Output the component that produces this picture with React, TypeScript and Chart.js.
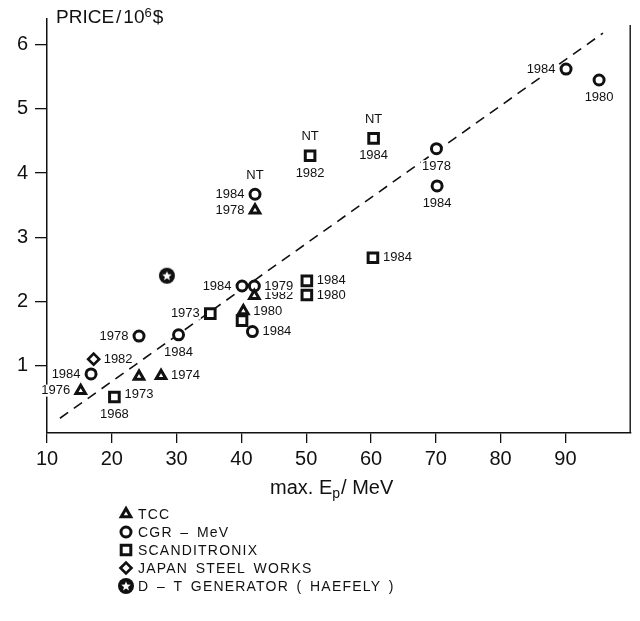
import React, { useEffect, useRef } from 'react';
import { Chart, registerables } from 'chart.js';
import { drawPoint } from 'chart.js/helpers';

Chart.register(...registerables);

// ---------- data ----------
const tccX = [15.2, 24.2, 27.6, 40.3, 42.0, 42.1];
const tccY = [0.61, 0.83, 0.84, 1.85, 2.09, 3.42];
const tccYears = ['1976', '1973', '1974', '1980', '1982', '1978'];
const tccNT = [false, false, false, false, false, false];

const cgrX = [16.8, 24.2, 30.3, 40.1, 42.0, 41.7, 42.1, 70.1, 70.2, 90.1, 95.2];
const cgrY = [0.87, 1.46, 1.48, 2.24, 2.24, 1.53, 3.67, 4.38, 3.8, 5.62, 5.45];
const cgrYears = ['1984', '1978', '1984', '1984', '1979', '1984', '1984', '1978', '1984', '1984', '1980'];
const cgrNT = [false, false, false, false, false, false, true, false, false, false, false];

const scanX = [20.4, 35.2, 40.1, 50.1, 50.1, 60.3, 50.6, 60.4];
const scanY = [0.51, 1.81, 1.7, 2.32, 2.1, 2.68, 4.27, 4.54];
const scanYears = ['1968', '1973', '', '1984', '1980', '1984', '1982', '1984'];
const scanNT = [false, false, false, false, false, false, true, true];

const jswX = [17.2];
const jswY = [1.1];
const jswYears = ['1982'];
const jswNT = [false];

const dtX = [28.5];
const dtY = [2.4];
const dtYears = [''];
const dtNT = [false];

const fitX = [12.0, 95.8];
const fitY = [0.18, 6.18];

const xTickValues = [10, 20, 30, 40, 50, 60, 70, 80, 90];
const yTickValues = [1, 2, 3, 4, 5, 6];

const seriesNames = ['TCC', 'CGR – MeV', 'SCANDITRONIX', 'JAPAN STEEL WORKS', 'D – T GENERATOR ( HAEFELY )'];

// label placement (style): l = left, r = right, b = below
const tccSide = ['l', 'b', 'r', 'r', 'r', 'l'];
const cgrSide = ['l', 'l', 'b', 'l', 'r', 'r', 'l', 'b', 'b', 'l', 'b'];
const scanSide = ['b', 'l', 'r', 'r', 'r', 'r', 'b', 'b'];
const jswSide = ['r'];
const dtSide = [''];

const INK = '#111';
const FONT = '"Liberation Sans", Arial, Helvetica, sans-serif';

function makeStar(): HTMLCanvasElement {
  const c = document.createElement('canvas');
  c.width = 18;
  c.height = 18;
  const g = c.getContext('2d')!;
  g.fillStyle = INK;
  g.beginPath();
  g.arc(9, 9, 8, 0, Math.PI * 2);
  g.fill();
  g.fillStyle = '#fff';
  g.beginPath();
  for (let i = 0; i < 10; i++) {
    const r = i % 2 === 0 ? 5 : 2.2;
    const a = -Math.PI / 2 + (i * Math.PI) / 5;
    const px = 9 + r * Math.cos(a);
    const py = 9.4 + r * Math.sin(a);
    if (i === 0) g.moveTo(px, py);
    else g.lineTo(px, py);
  }
  g.closePath();
  g.fill();
  return c;
}

const pts = (xs: number[], ys: number[]) => xs.map((x, i) => ({ x, y: ys[i] }));

export default function App() {
  const ref = useRef<HTMLCanvasElement | null>(null);

  useEffect(() => {
    if (!ref.current) return;
    const star = makeStar();

    const series = [
      { data: pts(tccX, tccY), style: 'triangle' as any, radius: 5.5, bw: 3, years: tccYears, side: tccSide, nt: tccNT },
      { data: pts(cgrX, cgrY), style: 'circle' as any, radius: 5, bw: 3, years: cgrYears, side: cgrSide, nt: cgrNT },
      { data: pts(scanX, scanY), style: 'rect' as any, radius: 6.8, bw: 3, years: scanYears, side: scanSide, nt: scanNT },
      { data: pts(jswX, jswY), style: 'rectRot' as any, radius: 5.5, bw: 2.6, years: jswYears, side: jswSide, nt: jswNT },
      { data: pts(dtX, dtY), style: star as any, radius: 8, bw: 0, years: dtYears, side: dtSide, nt: dtNT },
    ];

    const datasets: any[] = series.map((s, i) => ({
      label: seriesNames[i],
      data: s.data,
      showLine: false,
      pointStyle: s.style,
      pointRadius: s.radius,
      pointHoverRadius: s.radius,
      pointBorderWidth: s.bw,
      pointBorderColor: INK,
      pointBackgroundColor: '#fff',
      borderColor: INK,
      backgroundColor: '#fff',
    }));
    const lineIndex = datasets.length;
    datasets.push({
      label: 'fit',
      data: pts(fitX, fitY),
      showLine: true,
      pointRadius: 0,
      borderColor: INK,
      borderWidth: 1.6,
      borderDash: [10, 7],
      fill: false,
    });

    const annotPlugin = {
      id: 'annot',
      // the fit line is drawn first; labels go on top of it, markers on top of labels
      afterDatasetDraw(chart: any, args: any) {
        if (args.index !== lineIndex) return;
        const ctx = chart.ctx as CanvasRenderingContext2D;
        ctx.save();
        ctx.font = `13px ${FONT}`;
        ctx.textBaseline = 'middle';
        const put = (t: string, tx: number, ty: number, align: CanvasTextAlign) => {
          const w = ctx.measureText(t).width;
          const left = align === 'right' ? tx - w : align === 'center' ? tx - w / 2 : tx;
          ctx.fillStyle = '#fff';
          ctx.fillRect(left - 1, ty - 6, w + 2, 12);
          ctx.fillStyle = INK;
          ctx.textAlign = align;
          ctx.fillText(t, tx, ty);
        };
        series.forEach((s, di) => {
          const meta = chart.getDatasetMeta(di);
          meta.data.forEach((el: any, i: number) => {
            const t = s.years[i];
            const side = s.side[i];
            const x = el.x;
            const y = el.y;
            if (t) {
              if (side === 'l') put(t, x - 10.5, y, 'right');
              else if (side === 'r') put(t, x + 10, y, 'left');
              else if (side === 'b') put(t, x, y + 17.5, 'center');
            }
            if (s.nt[i]) put('NT', x, y - 19, 'center');
          });
        });
        ctx.restore();
      },
      afterDraw(chart: any) {
        const ctx = chart.ctx as CanvasRenderingContext2D;
        const a = chart.chartArea;
        ctx.save();
        // right frame line
        ctx.strokeStyle = INK;
        ctx.lineWidth = 1.4;
        ctx.beginPath();
        ctx.moveTo(a.right, a.top + 6);
        ctx.lineTo(a.right, a.bottom);
        ctx.stroke();

        ctx.fillStyle = INK;
        ctx.textAlign = 'left';
        ctx.textBaseline = 'alphabetic';
        // y title: PRICE/10^6$
        let x = 56;
        ctx.font = `19px ${FONT}`;
        ctx.fillText('PRICE', x, 23);
        x += ctx.measureText('PRICE').width + 2;
        ctx.fillText('/', x, 23);
        x += ctx.measureText('/').width + 2;
        ctx.fillText('10', x, 23);
        x += ctx.measureText('10').width;
        ctx.font = `13px ${FONT}`;
        ctx.fillText('6', x, 17);
        x += ctx.measureText('6').width + 1;
        ctx.font = `19px ${FONT}`;
        ctx.fillText('$', x, 23);

        // x title: max. Ep/ MeV
        x = 270;
        const by = 494;
        ctx.font = `20px ${FONT}`;
        ctx.fillText('max. E', x, by);
        x += ctx.measureText('max. E').width;
        ctx.font = `14px ${FONT}`;
        ctx.fillText('p', x, by + 4);
        x += ctx.measureText('p').width + 1;
        ctx.font = `20px ${FONT}`;
        ctx.fillText('/ MeV', x, by);

        // legend
        ctx.textBaseline = 'middle';
        series.forEach((s, i) => {
          const ly = 514 + i * 18;
          ctx.fillStyle = '#fff';
          ctx.strokeStyle = INK;
          ctx.lineWidth = s.bw;
          drawPoint(ctx, { pointStyle: s.style, radius: s.radius, rotation: 0, borderWidth: s.bw } as any, 126, ly);
          ctx.fillStyle = INK;
          ctx.font = `14px ${FONT}`;
          (ctx as any).letterSpacing = '1.2px';
          (ctx as any).wordSpacing = '2.5px';
          ctx.fillText(seriesNames[i], 138, ly + 1);
          (ctx as any).letterSpacing = '0px';
          (ctx as any).wordSpacing = '0px';
        });
        ctx.restore();
      },
    };

    const chart = new Chart(ref.current, {
      type: 'scatter',
      data: { datasets },
      options: {
        animation: false,
        responsive: false,
        layout: { padding: { top: 14, right: 3, left: 0, bottom: 0 } },
        plugins: { legend: { display: false }, tooltip: { enabled: false } },
        scales: {
          x: {
            type: 'linear',
            min: 10,
            max: 100,
            afterBuildTicks: (s: any) => {
              s.ticks = xTickValues.map((v) => ({ value: v }));
            },
            afterFit: (s: any) => {
              s.height = 188;
            },
            grid: { drawOnChartArea: false, drawTicks: true, tickLength: 10, color: INK, lineWidth: 1.3 },
            border: { display: true, color: INK, width: 1.5 },
            ticks: { color: INK, font: { size: 20, family: FONT }, padding: 4, maxRotation: 0, autoSkip: false },
          },
          y: {
            type: 'linear',
            min: -0.05,
            max: 6.4,
            afterBuildTicks: (s: any) => {
              s.ticks = yTickValues.map((v) => ({ value: v }));
            },
            afterFit: (s: any) => {
              s.width = 47;
            },
            grid: { drawOnChartArea: false, drawTicks: true, tickLength: 12, color: INK, lineWidth: 1.3 },
            border: { display: true, color: INK, width: 1.5 },
            ticks: { color: INK, font: { size: 20, family: FONT }, padding: 7, autoSkip: false },
          },
        },
      },
      plugins: [annotPlugin],
    });

    return () => chart.destroy();
  }, []);

  return (
    <div style={{ position: 'absolute', left: 0, top: 0, width: 640, height: 621, background: '#fff' }}>
      <canvas ref={ref} width={640} height={621} style={{ display: 'block' }} />
    </div>
  );
}
